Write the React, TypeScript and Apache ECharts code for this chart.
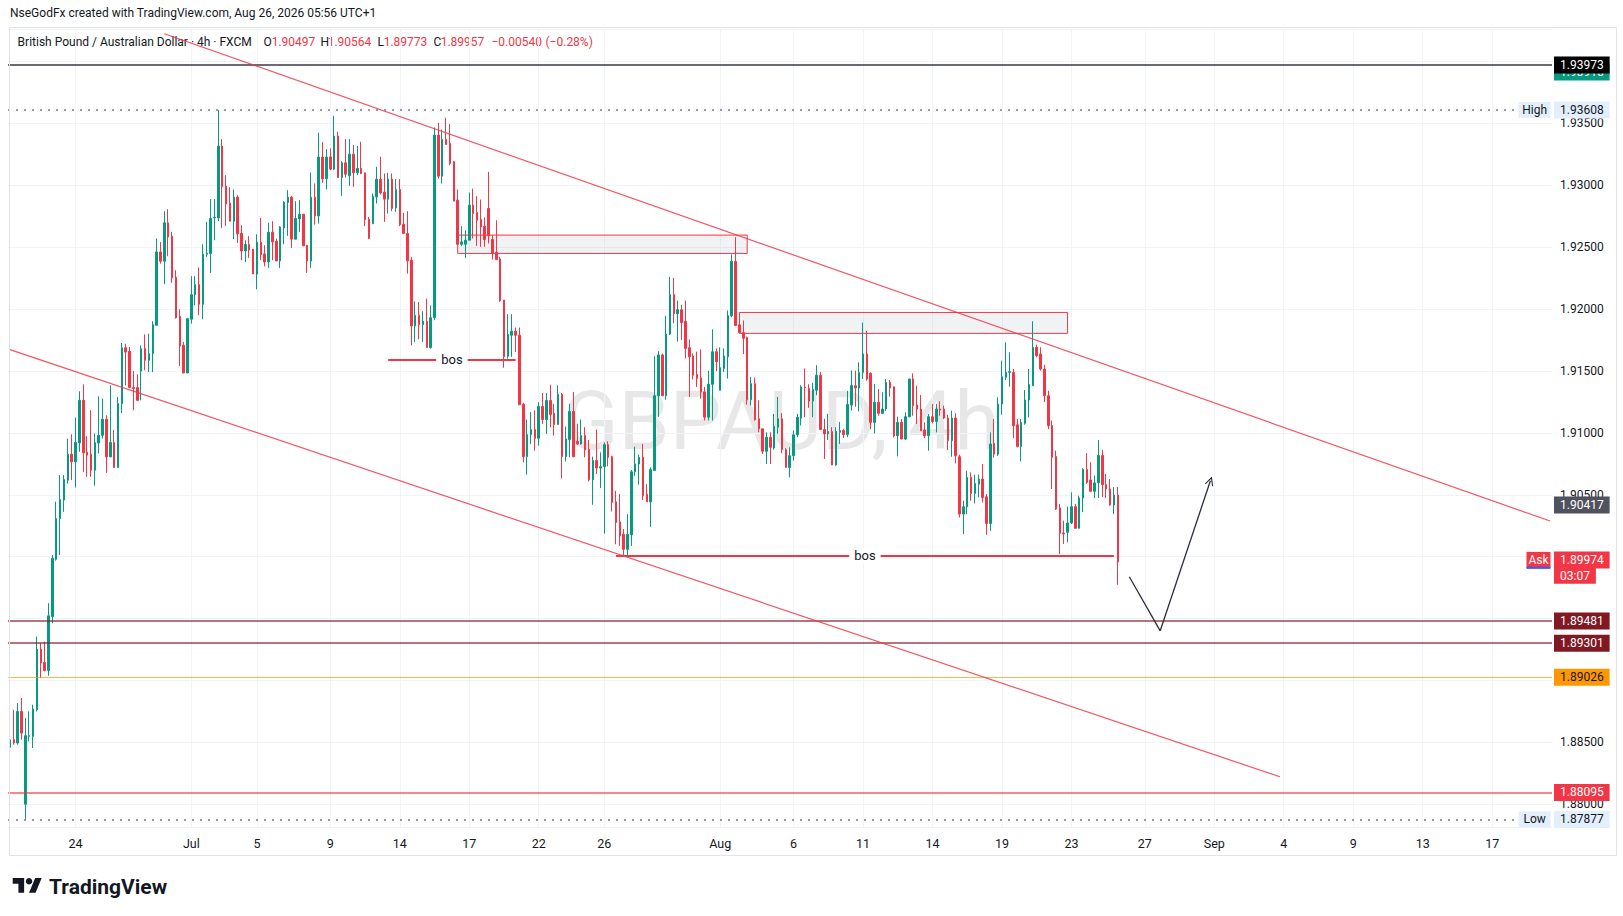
import React, { useEffect, useRef } from "react";
import * as echarts from "echarts";

type Candle = [number, number, number, number]; // open, close, low, high

// ---- candle data (4h, GBPAUD) ----
const candlesJun: Candle[] = [
  [1.8846, 1.8852, 1.8833, 1.8854], [1.88522, 1.88495, 1.88481, 1.88763], [1.88495, 1.8875, 1.88481, 1.88817],
  [1.8875, 1.88575, 1.88522, 1.88858], [1.88, 1.88554, 1.87877, 1.88696], [1.88548, 1.88554, 1.88508, 1.8875],
  [1.88548, 1.88769, 1.88454, 1.88804], [1.88763, 1.89253, 1.8875, 1.89355], [1.89253, 1.8914, 1.89019, 1.89301],
  [1.89145, 1.89081, 1.89073, 1.89314], [1.89081, 1.89522, 1.89038, 1.89624], [1.89516, 1.89987, 1.89462, 1.90013],
  [1.89978, 1.90309, 1.89968, 1.90444], [1.90309, 1.90462, 1.90013, 1.90659], [1.90457, 1.90624, 1.90363, 1.90659],
  [1.90618, 1.90828, 1.90591, 1.90954], [1.90828, 1.90766, 1.90618, 1.90989], [1.90766, 1.90922, 1.90559, 1.91124],
  [1.90919, 1.91263, 1.90847, 1.91336], [1.91263, 1.90839, 1.90685, 1.91392], [1.90844, 1.9082, 1.90645, 1.90973],
  [1.90828, 1.90699, 1.90645, 1.91183], [1.90699, 1.90922, 1.90573, 1.90995], [1.90919, 1.90981, 1.90833, 1.91296],
  [1.90981, 1.9111, 1.90954, 1.91277], [1.9111, 1.90806, 1.90677, 1.91142], [1.90806, 1.90922, 1.90806, 1.91384],
  [1.90922, 1.9072, 1.9072, 1.91022], [1.9072, 1.91237, 1.9072, 1.9129], [1.91237, 1.91688, 1.91161, 1.91726],
  [1.91688, 1.91653, 1.91384, 1.9172], [1.91659, 1.91366, 1.91366, 1.91694], [1.91366, 1.91358, 1.91183, 1.915],
  [1.91366, 1.91263, 1.91258, 1.91473], [1.915, 1.9168, 1.91263, 1.91707], [1.9168, 1.91586, 1.91505, 1.91796],
  [1.91586, 1.9164, 1.91492, 1.91801], [1.9164, 1.91875, 1.91492, 1.91902],
];

const candlesJulA: Candle[] = [
  [1.91869, 1.92462, 1.91869, 1.9257], [1.92462, 1.92387, 1.92368, 1.92543], [1.92387, 1.92697, 1.92201, 1.92791],
  [1.92697, 1.92584, 1.92427, 1.92807], [1.92589, 1.92252, 1.92212, 1.92624], [1.92257, 1.91931, 1.91923, 1.92314],
  [1.91942, 1.91702, 1.9154, 1.91999], [1.91708, 1.91484, 1.91484, 1.91735], [1.91484, 1.91923, 1.91484, 1.91929],
  [1.91918, 1.92117, 1.91883, 1.92266], [1.92117, 1.92198, 1.92031, 1.92266], [1.92198, 1.92039, 1.9195, 1.92336],
  [1.92039, 1.92443, 1.91918, 1.92524], [1.92443, 1.92452, 1.92422, 1.92705], [1.92449, 1.92732, 1.92292, 1.92888],
  [1.92737, 1.92743, 1.92557, 1.92888], [1.92737, 1.93317, 1.9271, 1.93608], [1.93317, 1.92988, 1.92656, 1.93373],
  [1.92993, 1.9285, 1.92672, 1.93082], [1.92856, 1.9271, 1.9271, 1.92985], [1.9271, 1.92904, 1.92565, 1.92966],
  [1.92904, 1.92608, 1.92535, 1.9292], [1.92613, 1.9247, 1.92395, 1.92678], [1.9247, 1.92522, 1.92381, 1.92557],
  [1.92522, 1.92478, 1.92414, 1.92589], [1.92484, 1.92284, 1.92284, 1.92484], [1.92284, 1.9254, 1.9216, 1.92605],
  [1.9254, 1.92441, 1.92395, 1.92737], [1.92446, 1.92381, 1.92346, 1.92516], [1.92381, 1.92621, 1.92333, 1.92697],
  [1.92621, 1.92543, 1.92395, 1.9271], [1.92549, 1.92389, 1.92389, 1.9257], [1.92389, 1.92662, 1.92333, 1.9267],
  [1.92656, 1.92864, 1.92524, 1.92872], [1.92862, 1.92904, 1.92592, 1.92961], [1.92904, 1.92565, 1.92495, 1.92915],
  [1.92565, 1.92732, 1.92565, 1.92872], [1.92729, 1.92767, 1.92624, 1.9288], [1.92767, 1.92511, 1.92511, 1.92767],
  [1.92516, 1.92389, 1.92292, 1.92516], [1.92389, 1.92904, 1.92333, 1.93104], [1.92904, 1.92753, 1.92683, 1.93015],
  [1.92753, 1.93228, 1.92691, 1.93425], [1.93228, 1.93053, 1.9302, 1.93349], [1.93053, 1.93228, 1.92966, 1.93292],
];

const candlesJulB: Candle[] = [
  [1.9323, 1.93131, 1.93123, 1.93298], [1.93131, 1.93398, 1.93123, 1.93562], [1.93398, 1.93063, 1.93063, 1.93433],
  [1.93063, 1.93182, 1.92915, 1.93195], [1.93182, 1.9309, 1.93063, 1.93373], [1.93077, 1.93252, 1.92996, 1.93373],
  [1.93252, 1.93101, 1.92988, 1.93325], [1.93101, 1.93136, 1.93082, 1.93319], [1.93136, 1.93096, 1.9309, 1.93352],
  [1.93101, 1.92724, 1.9267, 1.93101], [1.92726, 1.9257, 1.9257, 1.92745], [1.92691, 1.92912, 1.92686, 1.92934],
  [1.92907, 1.9305, 1.92853, 1.9315], [1.9305, 1.92939, 1.92926, 1.9323], [1.92945, 1.92888, 1.92705, 1.93096],
  [1.92888, 1.9305, 1.92772, 1.93101], [1.9305, 1.92813, 1.92791, 1.93096], [1.92818, 1.92966, 1.92786, 1.9305],
  [1.92966, 1.92683, 1.9267, 1.9305], [1.92686, 1.92611, 1.92611, 1.92778], [1.92611, 1.9239, 1.92287, 1.92791],
  [1.92395, 1.91864, 1.91708, 1.92422], [1.91864, 1.9195, 1.91735, 1.92063], [1.9195, 1.91875, 1.91756, 1.92058],
  [1.91875, 1.91902, 1.91735, 1.91983], [1.91902, 1.91689, 1.91689, 1.92085], [1.91689, 1.91931, 1.91681, 1.92031],
  [1.91931, 1.93406, 1.9191, 1.93468], [1.93406, 1.93074, 1.93055, 1.93505], [1.93074, 1.93371, 1.93015, 1.93451],
  [1.93371, 1.9333, 1.9333, 1.93546], [1.93338, 1.93177, 1.93163, 1.93495], [1.9319, 1.92872, 1.92872, 1.93195],
  [1.9288, 1.92524, 1.92524, 1.92966], [1.92524, 1.92543, 1.92511, 1.9267], [1.92524, 1.92557, 1.92414, 1.92637],
  [1.92557, 1.9284, 1.92557, 1.92942], [1.9284, 1.92772, 1.9257, 1.92974], [1.9278, 1.92718, 1.92511, 1.92912],
  [1.92724, 1.92664, 1.92503, 1.92885], [1.9267, 1.92562, 1.92503, 1.9274], [1.92813, 1.92592, 1.9253, 1.93109],
  [1.92562, 1.92454, 1.924, 1.92597], [1.9246, 1.924, 1.924, 1.92718],
];

const candlesJulC: Candle[] = [
  [1.92405, 1.92068, 1.92059, 1.92424], [1.92073, 1.91614, 1.91527, 1.92073], [1.91619, 1.91797, 1.916, 1.91959],
  [1.91789, 1.91822, 1.91614, 1.91959], [1.91822, 1.91789, 1.91654, 1.91851], [1.91789, 1.91227, 1.91227, 1.91851],
  [1.91232, 1.90808, 1.90762, 1.91243], [1.90808, 1.90986, 1.90662, 1.91108], [1.90986, 1.91027, 1.90911, 1.91168],
  [1.91027, 1.90957, 1.90857, 1.91181], [1.90957, 1.91214, 1.90897, 1.91249], [1.91214, 1.91108, 1.91073, 1.91322],
  [1.91108, 1.91262, 1.90992, 1.91322], [1.91262, 1.91149, 1.91046, 1.91389], [1.91159, 1.91068, 1.90978, 1.91235],
  [1.91068, 1.91311, 1.91068, 1.91384], [1.91311, 1.90808, 1.90632, 1.91322], [1.90808, 1.90951, 1.9077, 1.91051],
  [1.90946, 1.91173, 1.90803, 1.91235], [1.91173, 1.90808, 1.90803, 1.9133], [1.9093, 1.90911, 1.90903, 1.91073],
  [1.90911, 1.90978, 1.90905, 1.91108], [1.90978, 1.90862, 1.90803, 1.91046], [1.90865, 1.90622, 1.90608, 1.90943],
  [1.90622, 1.90776, 1.90419, 1.90808], [1.90776, 1.90716, 1.90668, 1.91027], [1.90716, 1.90727, 1.90554, 1.90843],
  [1.90727, 1.90905, 1.90186, 1.90924], [1.90905, 1.90803, 1.9073, 1.90932], [1.90808, 1.90438, 1.90365, 1.90816],
  [1.90443, 1.90276, 1.901, 1.90532], [1.90281, 1.90168, 1.90087, 1.90505], [1.90181, 1.9006, 1.9001, 1.90222],
  [1.9006, 1.90181, 1.9001, 1.90343], [1.90176, 1.90686, 1.90087, 1.907], [1.90686, 1.90749, 1.90654, 1.90889],
  [1.90749, 1.90803, 1.90581, 1.90824], [1.90803, 1.90492, 1.90457, 1.90911], [1.90505, 1.90443, 1.90443, 1.90586],
  [1.90443, 1.90703, 1.90241, 1.90722], [1.90697, 1.913, 1.90697, 1.91619], [1.913, 1.9163, 1.9113, 1.9166],
  [1.9163, 1.913, 1.913, 1.9164],
];

const candlesAugA: Candle[] = [
  [1.913, 1.91799, 1.91268, 1.91946], [1.91799, 1.92117, 1.91791, 1.9226], [1.92117, 1.91962, 1.91886, 1.92252],
  [1.91962, 1.91995, 1.91737, 1.9207], [1.91995, 1.91892, 1.91751, 1.92035], [1.919, 1.91683, 1.91602, 1.9207],
  [1.91688, 1.91615, 1.9129, 1.91756], [1.91621, 1.91466, 1.91431, 1.91642], [1.91472, 1.91439, 1.91371, 1.91656],
  [1.91444, 1.91331, 1.91276, 1.91675], [1.91331, 1.91127, 1.911, 1.91371], [1.91127, 1.91393, 1.911, 1.91501],
  [1.91393, 1.91656, 1.911, 1.91837], [1.91656, 1.91575, 1.91499, 1.91683], [1.91344, 1.91526, 1.91344, 1.91691],
  [1.9152, 1.91621, 1.91493, 1.91683], [1.91615, 1.91946, 1.91439, 1.91989], [1.91946, 1.92385, 1.91935, 1.92442],
  [1.92385, 1.91867, 1.91867, 1.9258], [1.91873, 1.9181, 1.9181, 1.919], [1.9181, 1.91764, 1.91637, 1.91908],
  [1.9177, 1.91268, 1.91228, 1.91778], [1.91268, 1.91398, 1.91222, 1.91453], [1.91398, 1.91106, 1.911, 1.91447],
  [1.91114, 1.91033, 1.91005, 1.91263], [1.91033, 1.90851, 1.90829, 1.91033], [1.90851, 1.90965, 1.90748, 1.91005],
  [1.90965, 1.90883, 1.90748, 1.91005], [1.90878, 1.91052, 1.90864, 1.91154], [1.91046, 1.91114, 1.90992, 1.9129],
  [1.91114, 1.90864, 1.90835, 1.9116], [1.90864, 1.90721, 1.90721, 1.90878], [1.90721, 1.90816, 1.9064, 1.90883],
  [1.90816, 1.90984, 1.90775, 1.91019], [1.90984, 1.91127, 1.90965, 1.91154], [1.91119, 1.91371, 1.9106, 1.91385],
  [1.91371, 1.91366, 1.91127, 1.9152], [1.91358, 1.91257, 1.91203, 1.91393], [1.91257, 1.91352, 1.91127, 1.91404],
  [1.91344, 1.91466, 1.91304, 1.91547], [1.91466, 1.91027, 1.91027, 1.91493], [1.91027, 1.90992, 1.90789, 1.91114],
  [1.90992, 1.91011, 1.90943, 1.91154], [1.91011, 1.9074, 1.9074, 1.91046], [1.9074, 1.91011, 1.90734, 1.91046],
  [1.91005, 1.91019, 1.90911, 1.91087], [1.91019, 1.90986, 1.90959, 1.91033], [1.90986, 1.9123, 1.90965, 1.91339],
  [1.91225, 1.91383, 1.9118, 1.91505],
];

const candlesAugB: Candle[] = [
  [1.91381, 1.91363, 1.91212, 1.91503], [1.91363, 1.91489, 1.91174, 1.9157], [1.91489, 1.91637, 1.91435, 1.91891],
  [1.91637, 1.91435, 1.91422, 1.91826], [1.91481, 1.91085, 1.91031, 1.91489], [1.91085, 1.91247, 1.90996, 1.91395],
  [1.91247, 1.91158, 1.91139, 1.91354], [1.91158, 1.91193, 1.91152, 1.91328], [1.91193, 1.91408, 1.91179, 1.91435],
  [1.91408, 1.91363, 1.91292, 1.91427], [1.91373, 1.90977, 1.90964, 1.91373], [1.90977, 1.91085, 1.9081, 1.91131],
  [1.91085, 1.9095, 1.9095, 1.91112], [1.9095, 1.91131, 1.90942, 1.91166], [1.91131, 1.91435, 1.91125, 1.91435],
  [1.91435, 1.9122, 1.91139, 1.91481], [1.91225, 1.91193, 1.91071, 1.91381], [1.91193, 1.91018, 1.91018, 1.91306],
  [1.91023, 1.90977, 1.90958, 1.91085], [1.90977, 1.91131, 1.90856, 1.91152], [1.91131, 1.91093, 1.91077, 1.91233],
  [1.91093, 1.91193, 1.91004, 1.91233], [1.91193, 1.91185, 1.91139, 1.91255], [1.91193, 1.9112, 1.91112, 1.9122],
  [1.9112, 1.90937, 1.90861, 1.91147], [1.90937, 1.9112, 1.90807, 1.91179], [1.9112, 1.90815, 1.90753, 1.91158],
  [1.90807, 1.90344, 1.90317, 1.90824], [1.90344, 1.90403, 1.90182, 1.90452], [1.90403, 1.9064, 1.90344, 1.90694],
  [1.9064, 1.90511, 1.90452, 1.90681], [1.90511, 1.90592, 1.9043, 1.90662], [1.90586, 1.90627, 1.90479, 1.90662],
  [1.90627, 1.90479, 1.90438, 1.90748], [1.90484, 1.90268, 1.90177, 1.90506], [1.90268, 1.9091, 1.90209, 1.91004],
  [1.90915, 1.90829, 1.90802, 1.91112], [1.90829, 1.91233, 1.90815, 1.91287], [1.91233, 1.91454, 1.91147, 1.91584],
  [1.91449, 1.91489, 1.91427, 1.91732], [1.91489, 1.91495, 1.91373, 1.91651], [1.91489, 1.91058, 1.90958, 1.91516],
  [1.91066, 1.90891, 1.90883, 1.91112], [1.90891, 1.91085, 1.9077, 1.91112], [1.91077, 1.91266, 1.91066, 1.91346],
  [1.91266, 1.9139, 1.91125, 1.91516], [1.91381, 1.91691, 1.91381, 1.91902], [1.91691, 1.91624, 1.9161, 1.91713],
  [1.91637, 1.91516, 1.91503, 1.91691], [1.91516, 1.913, 1.9125, 1.9155], [1.913, 1.91059, 1.9103, 1.9134],
  [1.91059, 1.90803, 1.90547, 1.911], [1.90809, 1.90386, 1.90377, 1.90857], [1.90394, 1.90189, 1.90022, 1.90426],
  [1.90191, 1.90183, 1.90103, 1.90291], [1.90197, 1.90272, 1.90116, 1.90404], [1.90272, 1.90404, 1.90264, 1.9052],
  [1.90404, 1.90229, 1.90229, 1.90426], [1.90229, 1.90474, 1.90229, 1.90493], [1.90474, 1.90704, 1.90359, 1.90714],
  [1.90704, 1.90601, 1.90588, 1.90836], [1.9062, 1.90528, 1.90528, 1.90763], [1.90528, 1.90596, 1.90474, 1.90655],
  [1.90596, 1.90817, 1.90474, 1.90943], [1.90817, 1.90582, 1.9048, 1.90863], [1.90582, 1.90547, 1.90474, 1.90669],
  [1.90547, 1.90418, 1.90412, 1.90628], [1.90418, 1.90497, 1.90345, 1.90561], [1.90497, 1.89957, 1.89773, 1.90564],
];

const candles: Candle[] = [...candlesJun, ...candlesJulA, ...candlesJulB, ...candlesJulC, ...candlesAugA, ...candlesAugB];

// ---- time axis ----
const SLOT_COUNT = 400; // candles + empty future space
const dayTickIndex = [17, 47, 64, 83, 101, 119, 137, 154, 184, 203, 221, 239, 257, 275, 294, 312, 330, 348, 366, 384];
const dayTickText = ["24", "Jul", "5", "9", "14", "17", "22", "26", "Aug", "6", "11", "14", "19", "23", "27", "Sep", "4", "9", "13", "17"];

// ---- drawings ----
const upperTrend: [number, number][] = [[40, 1.94225], [399, 1.90288]];
const lowerTrend: [number, number][] = [[0, 1.91673], [329, 1.88222]];
const zoneUpper: [number, number][] = [[116, 1.92598], [191, 1.9245]];
const zoneLower: [number, number][] = [[189, 1.91973], [274, 1.91804]];
const bosUpper = { from: 98, to: 131, price: 1.9159 };
const bosLower = { from: 157, to: 286, price: 1.90007 };
const projection: [number, number][] = [[290, 1.89838], [298, 1.89401], [311, 1.90613]];

// ---- price levels ----
const keyLevels = [1.93973, 1.89481, 1.89301, 1.89026, 1.88095];
const sessionHigh = 1.93608;
const sessionLow = 1.87877;
const askPrice = 1.89974;
const countdownText = "03:07";
const trendTagPrice = 1.90417;
const hiddenTagPrice = 1.93915;

const headerText = "NseGodFx created with TradingView.com, Aug 26, 2026 05:56 UTC+1";
const symbolTitle = "British Pound / Australian Dollar \u00b7 4h \u00b7 FXCM";
const watermarkText = "GBPAUD, 4h";

// ---- styles ----
const FONT = "Roboto";
const UP = "#089981";
const DOWN = "#f23645";
const TEXT = "#131722";
const keyLevelStyle = [
  { line: "rgba(19,23,34,0.85)", width: 1.5, bg: "#000000", fg: "#ffffff" },
  { line: "rgba(128,25,34,0.6)", width: 2, bg: "#801922", fg: "#ffffff" },
  { line: "rgba(128,25,34,0.6)", width: 2, bg: "#801922", fg: "#ffffff" },
  { line: "rgba(255,152,0,0.7)", width: 1, bg: "#ff9800", fg: TEXT },
  { line: "rgba(242,54,69,0.6)", width: 2, bg: "#f23645", fg: "#ffffff" },
];

const TV_LOGO_PATH = "M14 22H7V11H0V4h14v18zM28 22h-8l7.5-18h8L28 22z";
echarts.graphic.registerShape("tvlogo", echarts.graphic.extendPath(TV_LOGO_PATH, {}) as any);

const fmt = (v: number) => v.toFixed(5);
const minus = (s: string) => s.replace("-", "\u2212");

function boxLabel(text: string, bg: string, fg: string) {
  return {
    show: true,
    position: "end",
    distance: 2,
    formatter: text,
    backgroundColor: bg,
    color: fg,
    padding: [3, 6, 2, 6],
    fontSize: 12,
    fontFamily: FONT,
    lineHeight: 12,
  };
}

function buildOption() {
  const slotNames = Array.from({ length: SLOT_COUNT }, (_, i) => `s${i}`);
  const tickMap = new Map<string, string>();
  dayTickIndex.forEach((idx, k) => tickMap.set(slotNames[idx], dayTickText[k]));
  const tickSet = new Set(dayTickIndex);

  const last = candles[candles.length - 1];
  const prev = candles[candles.length - 2];
  const change = last[1] - prev[1];
  const pct = (change / prev[1]) * 100;

  const invisible = "rgba(0,0,0,0)";
  const pxPerUnit = 798 / (1.94263 - 1.87816);
  const countdownPrice = askPrice - 16 / pxPerUnit; // countdown box sits one label-height below the price box

  const hLines: any[] = [];
  hLines.push({ yAxis: hiddenTagPrice, lineStyle: { color: invisible, width: 1, type: "solid" }, label: boxLabel(fmt(hiddenTagPrice), UP, "#ffffff") });
  keyLevels.forEach((p, i) => {
    const s = keyLevelStyle[i];
    hLines.push({ yAxis: p, lineStyle: { color: s.line, width: s.width, type: "solid" }, label: boxLabel(fmt(p), s.bg, s.fg) });
  });
  hLines.push({ yAxis: sessionHigh, lineStyle: { color: "#787b86", width: 1.5, type: [2, 6] }, label: boxLabel(fmt(sessionHigh), "#e3effd", TEXT) });
  hLines.push({ yAxis: sessionLow, lineStyle: { color: "#787b86", width: 1.5, type: [2, 6] }, label: boxLabel(fmt(sessionLow), "#e3effd", TEXT) });
  hLines.push({ yAxis: trendTagPrice, lineStyle: { color: invisible, width: 1, type: "solid" }, label: boxLabel(fmt(trendTagPrice), "#50535e", "#ffffff") });
  hLines.push({ yAxis: countdownPrice, lineStyle: { color: invisible, width: 1, type: "solid" }, label: { ...boxLabel(countdownText, DOWN, "#ffffff"), padding: [2, 6, 2, 6] } });
  hLines.push({ yAxis: askPrice, lineStyle: { color: invisible, width: 1, type: "solid" }, label: boxLabel(fmt(askPrice), DOWN, "#ffffff") });

  const red = { color: "rgba(242,54,69,0.85)", width: 1.2, type: "solid" };
  const bosStyle = { color: DOWN, width: 2, type: "solid" };
  const arrowStyle = { color: "#2a2e39", width: 1.3, type: "solid" };
  const bosLabel = {
    show: true,
    position: "insideMiddle",
    formatter: "bos",
    color: TEXT,
    fontSize: 13,
    fontFamily: FONT,
    backgroundColor: "#ffffff",
    padding: [1, 5, 1, 5],
  };
  const chevron = "path://M0,10 L5,0 L10,10 L8.6,10 L5,2.8 L1.4,10 Z";
  const pairs: any[] = [
    [{ coord: upperTrend[0], lineStyle: red }, { coord: upperTrend[1] }],
    [{ coord: lowerTrend[0], lineStyle: red }, { coord: lowerTrend[1] }],
    [
      { coord: [bosUpper.from, bosUpper.price], lineStyle: bosStyle, label: bosLabel },
      { coord: [bosUpper.to, bosUpper.price] },
    ],
    [
      { coord: [bosLower.from, bosLower.price], lineStyle: bosStyle, label: bosLabel },
      { coord: [bosLower.to, bosLower.price] },
    ],
    [{ coord: projection[0], lineStyle: arrowStyle }, { coord: projection[1] }],
    [
      { coord: projection[1], lineStyle: arrowStyle },
      { coord: projection[2], symbol: chevron, symbolSize: [9, 9] },
    ],
  ];

  const tagSlot = SLOT_COUNT - 5;

  return {
    animation: false,
    backgroundColor: "#ffffff",
    textStyle: { fontFamily: FONT },
    grid: { left: 8, right: 71, top: 29, bottom: 89, containLabel: false },
    xAxis: {
      type: "category",
      data: slotNames,
      boundaryGap: true,
      axisLine: { show: false },
      axisTick: { show: false, alignWithLabel: true },
      axisLabel: {
        interval: (i: number) => tickSet.has(i),
        formatter: (v: string) => tickMap.get(v) ?? "",
        color: TEXT,
        fontSize: 12.5,
        fontFamily: FONT,
        margin: 10,
      },
      splitLine: {
        show: true,
        alignWithLabel: true,
        interval: (i: number) => tickSet.has(i),
        lineStyle: { color: "#f0f3fa", width: 1 },
      },
    },
    yAxis: {
      type: "value",
      position: "right",
      min: 1.87816,
      max: 1.94263,
      splitNumber: 13,
      minInterval: 0.005,
      maxInterval: 0.005,
      axisLine: { show: false },
      axisTick: { show: false },
      axisLabel: {
        color: TEXT,
        fontSize: 12,
        fontFamily: FONT,
        margin: 8,
        formatter: (v: number) => {
          const k = v / 0.005;
          return Math.abs(k - Math.round(k)) < 1e-6 ? fmt(v) : "";
        },
      },
      splitLine: { lineStyle: { color: "#f0f3fa", width: 1 } },
    },
    series: [
      {
        type: "candlestick",
        data: candles,
        barWidth: 2,
        itemStyle: { color: UP, color0: DOWN, borderColor: UP, borderColor0: DOWN, borderWidth: 1 },
        markArea: {
          silent: true,
          itemStyle: { color: "rgba(120,123,134,0.1)", borderColor: DOWN, borderWidth: 1 },
          data: [
            [{ coord: zoneUpper[0] }, { coord: zoneUpper[1] }],
            [{ coord: zoneLower[0] }, { coord: zoneLower[1] }],
          ],
        },
        markLine: {
          silent: true,
          precision: 5,
          symbol: ["none", "none"],
          animation: false,
          label: { show: false },
          emphasis: { disabled: true },
          data: [...hLines, ...pairs],
        },
        markPoint: {
          silent: true,
          symbol: "rect",
          animation: false,
          data: [
            {
              coord: [tagSlot, sessionHigh], symbolSize: [32, 16], itemStyle: { color: "#e3effd" },
              label: { show: true, formatter: "High", color: TEXT, fontSize: 12, fontFamily: FONT },
            },
            {
              coord: [tagSlot, sessionLow], symbolSize: [32, 16], itemStyle: { color: "#e3effd" },
              label: { show: true, formatter: "Low", color: TEXT, fontSize: 12, fontFamily: FONT },
            },
            {
              coord: [tagSlot + 1, askPrice], symbolSize: [24, 16], itemStyle: { color: DOWN },
              label: { show: true, formatter: "Ask", color: "#ffffff", fontSize: 12, fontFamily: FONT },
            },
            {
              coord: [tagSlot + 1, askPrice], symbolSize: [24, 2], symbolOffset: [0, 8], itemStyle: { color: "#2962ff" },
              label: { show: false },
            },
          ],
        },
      },
    ],
    graphic: [
      {
        type: "text", x: 781, y: 421, z: 0, silent: true,
        style: { text: watermarkText, fontSize: 82, fontFamily: FONT, fill: "rgba(19,23,34,0.1)", align: "center", verticalAlign: "middle" },
      },
      {
        type: "rect", silent: true, z: 10,
        shape: { x: 9.5, y: 27.5, width: 1607, height: 828 },
        style: { fill: "none", stroke: "#e0e3eb", lineWidth: 1 },
      },
      {
        type: "text", x: 10, y: 13, silent: true,
        style: { text: headerText, fontSize: 12, fontFamily: FONT, fill: TEXT, verticalAlign: "middle" },
      },
      { type: "text", x: 17.6, y: 41.5, silent: true, style: { text: symbolTitle, fontSize: 12, fontFamily: FONT, fill: TEXT, verticalAlign: "middle" } },
      { type: "text", x: 263.4, y: 41.5, silent: true, style: { text: "O", fontSize: 12, fontFamily: FONT, fill: TEXT, verticalAlign: "middle" } },
      { type: "text", x: 271.7, y: 41.5, silent: true, style: { text: fmt(last[0]), fontSize: 12, fontFamily: FONT, fill: DOWN, verticalAlign: "middle" } },
      { type: "text", x: 320.4, y: 41.5, silent: true, style: { text: "H", fontSize: 12, fontFamily: FONT, fill: TEXT, verticalAlign: "middle" } },
      { type: "text", x: 327.7, y: 41.5, silent: true, style: { text: fmt(last[3]), fontSize: 12, fontFamily: FONT, fill: DOWN, verticalAlign: "middle" } },
      { type: "text", x: 377.5, y: 41.5, silent: true, style: { text: "L", fontSize: 12, fontFamily: FONT, fill: TEXT, verticalAlign: "middle" } },
      { type: "text", x: 383.7, y: 41.5, silent: true, style: { text: fmt(last[2]), fontSize: 12, fontFamily: FONT, fill: DOWN, verticalAlign: "middle" } },
      { type: "text", x: 433.5, y: 41.5, silent: true, style: { text: "C", fontSize: 12, fontFamily: FONT, fill: TEXT, verticalAlign: "middle" } },
      { type: "text", x: 440.7, y: 41.5, silent: true, style: { text: fmt(last[1]), fontSize: 12, fontFamily: FONT, fill: DOWN, verticalAlign: "middle" } },
      { type: "text", x: 491.5, y: 41.5, silent: true, style: { text: minus(fmt(change)), fontSize: 12, fontFamily: FONT, fill: DOWN, verticalAlign: "middle" } },
      { type: "text", x: 545.5, y: 41.5, silent: true, style: { text: `(${minus(pct.toFixed(2))}%)`, fontSize: 12, fontFamily: FONT, fill: DOWN, verticalAlign: "middle" } },
      {
        type: "group", x: 12.7, y: 874.7, scaleX: 0.817, scaleY: 0.817, silent: true,
        children: [
          { type: "tvlogo", style: { fill: TEXT } },
          { type: "circle", shape: { cx: 20, cy: 8, r: 4 }, style: { fill: TEXT } },
        ],
      },
      {
        type: "text", x: 49, y: 887, silent: true,
        style: { text: "TradingView", fontSize: 21, fontWeight: "bold", fontFamily: FONT, fill: TEXT, verticalAlign: "middle" },
      },
    ],
  };
}

export default function App() {
  const ref = useRef<HTMLDivElement>(null);
  useEffect(() => {
    if (!ref.current) return;
    const chart = echarts.init(ref.current, undefined, { renderer: "svg" });
    chart.setOption(buildOption() as any);
    return () => chart.dispose();
  }, []);
  return (
    <div
      ref={ref}
      style={{ position: "fixed", left: 0, top: 0, width: 1623, height: 916, background: "#ffffff" }}
    />
  );
}
